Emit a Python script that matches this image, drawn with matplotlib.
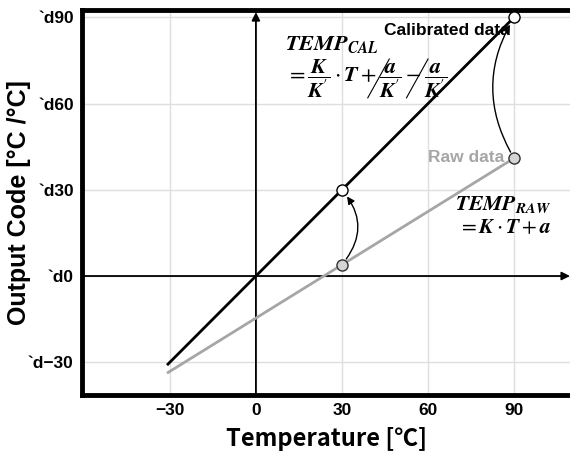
import matplotlib
matplotlib.use("Agg")
import matplotlib.pyplot as plt
from matplotlib.patches import FancyArrowPatch

# ---- data ----
temp_line = [-31, 90]
cal_line = [-31, 90]
raw_line = [-33.8, 41]
cal_points_x = [30, 90]
cal_points_y = [30, 90]
raw_points_x = [30, 90]
raw_points_y = [4, 41]
xticks = [-30, 0, 30, 60, 90]
xtick_labels = ["\u221230", "0", "30", "60", "90"]
yticks = [-30, 0, 30, 60, 90]
ytick_labels = ["`d\u221230", "`d0", "`d30", "`d60", "`d90"]

plt.rcParams['mathtext.fontset'] = 'stix'
sans = ['Liberation Sans', 'DejaVu Sans']

fig = plt.figure(figsize=(5.7, 4.62), dpi=100)
ax = fig.add_axes([0.144, 0.145, 0.856, 0.833])
ax.set_xlim(-60.6, 109.5)
ax.set_ylim(-41.4, 92.5)

ax.grid(True, color='#dedede', linewidth=1.0, zorder=0)
ax.set_axisbelow(True)
for s in ['left', 'top', 'bottom']:
    ax.spines[s].set_linewidth(3.5)
ax.spines['right'].set_visible(False)

ax.set_xticks(xticks)
ax.set_xticklabels(xtick_labels, fontfamily=sans, fontweight='bold', fontsize=12.5)
ax.set_yticks(yticks)
ax.set_yticklabels(ytick_labels, fontfamily=sans, fontweight='bold', fontsize=12.5)
ax.tick_params(length=0, pad=6)

ax.set_ylabel("Output Code [\u00b0C /\u00b0C]", fontfamily=sans,
              fontweight='bold', fontsize=18)
ax.yaxis.set_label_coords(-0.104, 0.5)
ax.set_xlabel("Temperature [\u2103]", fontfamily=['Noto Sans CJK KR', 'DejaVu Sans'],
              fontweight='bold', fontsize=17, labelpad=6)

# axis arrows
ax.annotate("", xy=(0, 0.995), xytext=(0, 0), xycoords=('data', 'axes fraction'),
            textcoords=('data', 'axes fraction'),
            arrowprops=dict(arrowstyle='-|>', color='black', lw=1.3, mutation_scale=12,
                            shrinkA=0, shrinkB=0), zorder=2)
ax.annotate("", xy=(1.0, 0), xytext=(0, 0), xycoords=('axes fraction', 'data'),
            textcoords=('axes fraction', 'data'),
            arrowprops=dict(arrowstyle='-|>', color='black', lw=1.3, mutation_scale=12,
                            shrinkA=0, shrinkB=0), zorder=2)

# lines
ax.plot(temp_line, raw_line, color='#a6a6a6', lw=2.0, zorder=3, solid_capstyle='butt')
ax.plot(temp_line, cal_line, color='black', lw=2.0, zorder=3, solid_capstyle='butt')

ax.plot(raw_points_x, raw_points_y, 'o', ms=8, mfc='#d4d4d4', mec='#303030', mew=1.0,
        zorder=5, clip_on=False)
ax.plot(cal_points_x, cal_points_y, 'o', ms=8, mfc='white', mec='black', mew=1.0,
        zorder=5, clip_on=False)

# curved arrows
rads = [0.42, -0.3]
for xr, yr, xc, yc, rad in zip(raw_points_x, raw_points_y, cal_points_x, cal_points_y, rads):
    arr = FancyArrowPatch((xr, yr), (xc, yc), connectionstyle=f"arc3,rad={rad}",
                          arrowstyle='-|>', mutation_scale=11, lw=1.0, color='black',
                          shrinkA=5, shrinkB=6, zorder=4)
    ax.add_patch(arr)

# text
ax.text(88.5, 85.5, "Calibrated data", ha='right', va='center', fontfamily=sans,
        fontweight='bold', fontsize=12.5, color='black', zorder=6)
ax.text(86.5, 41.4, "Raw data", ha='right', va='center', fontfamily=sans,
        fontweight='bold', fontsize=12.5, color='#a6a6a6', zorder=6)

ax.text(10, 80.5, r"$\mathbfit{TEMP}_{\mathbfit{CAL}}$", ha='left', va='center', fontsize=16)
ax.text(10.5, 68.8, r"$=\dfrac{\mathbfit{K}}{\mathbfit{K}'}\cdot\mathbfit{T}+\dfrac{\mathbfit{a}}{\mathbfit{K}'}-\dfrac{\mathbfit{a}}{\mathbfit{K}'}$",
        ha='left', va='center', fontsize=16)
# strike-through slashes on the cancelling terms
for xs in [(39.0, 46.5), (52.5, 60.0)]:
    ax.plot(list(xs), [62.0, 75.5], color='black', lw=0.8, zorder=6)

ax.text(103, 25.0, r"$\mathbfit{TEMP}_{\mathbfit{RAW}}$", ha='right', va='center', fontsize=15.5)
ax.text(103, 17.0, r"$=\mathbfit{K}\cdot\mathbfit{T}+\mathbfit{a}$", ha='right', va='center', fontsize=15.5)

fig.savefig("out.png", dpi=100)
